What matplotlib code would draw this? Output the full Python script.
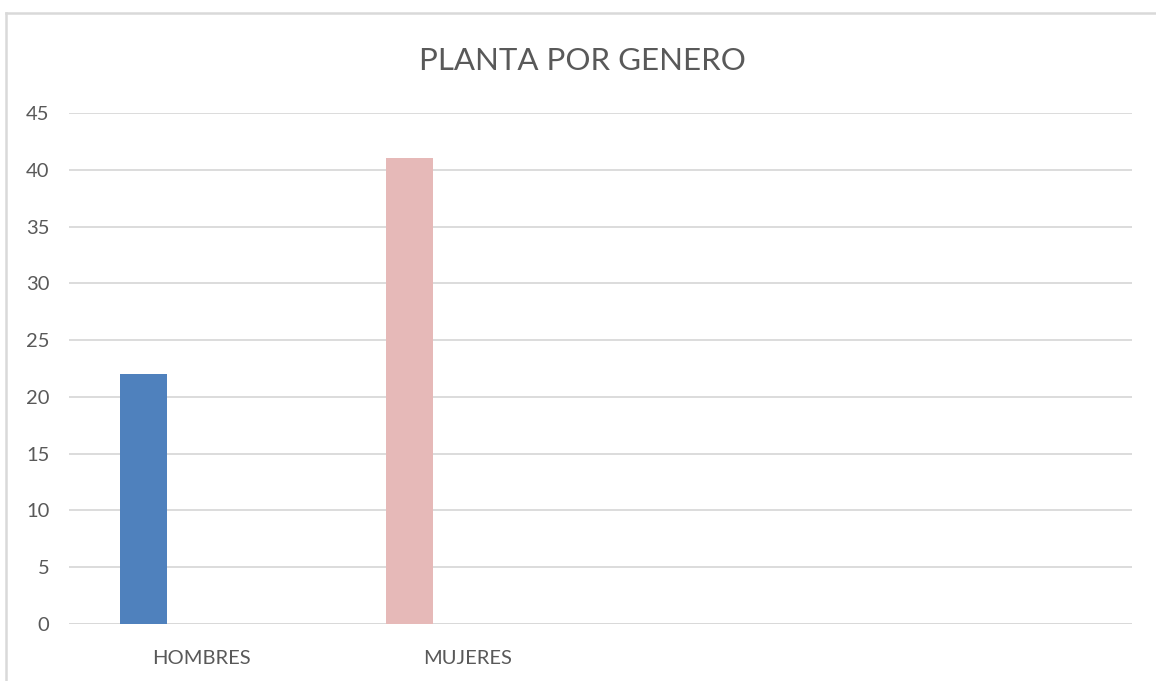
import matplotlib.pyplot as plt
from matplotlib.lines import Line2D

categories = ['HOMBRES', 'MUJERES', '', '']
values = [22, 41, 0, 0]
bar_colors = ['#4F81BD', '#E6B9B8', '#4F81BD', '#4F81BD']
yticks = [0, 5, 10, 15, 20, 25, 30, 35, 40, 45]

plt.rcParams['font.family'] = ['Lato', 'DejaVu Sans']

fig = plt.figure(figsize=(11.56, 6.81), dpi=100)
ax = fig.add_axes([0.0597, 0.0837, 0.9193, 0.7503])

x = list(range(len(categories)))
shown = [i for i, v in enumerate(values) if v > 0]
ax.bar([x[i] - 0.22 for i in shown], [values[i] for i in shown],
       width=0.177, color=[bar_colors[i] for i in shown], zorder=3)

ax.set_xlim(-0.5, len(categories) - 0.5)
ax.set_ylim(0, 45)
ax.set_yticks(yticks)
ax.set_xticks(x)
ax.set_xticklabels(categories)
ax.grid(axis='y', color='#D9D9D9', linewidth=1.3, zorder=0)
for s in ax.spines.values():
    s.set_visible(False)
ax.tick_params(axis='y', length=0, colors='#595959', labelsize=14.5, pad=14)
ax.tick_params(axis='x', length=0, colors='#595959', labelsize=14.5, pad=19)
ax.axhline(0, color='#D9D9D9', linewidth=1.3, zorder=1)

fig.text(0.504, 0.91, 'PLANTA POR GENERO', ha='center', va='center',
         fontsize=22.5, color='#595959')

# chart frame (left and top edges visible in crop)
fig.add_artist(Line2D([0.0055, 0.0055], [0, 0.981], color='#D9D9D9', linewidth=1.8))
fig.add_artist(Line2D([0.0055, 1.0], [0.981, 0.981], color='#D9D9D9', linewidth=1.8))

fig.savefig('out.png', dpi=100)
